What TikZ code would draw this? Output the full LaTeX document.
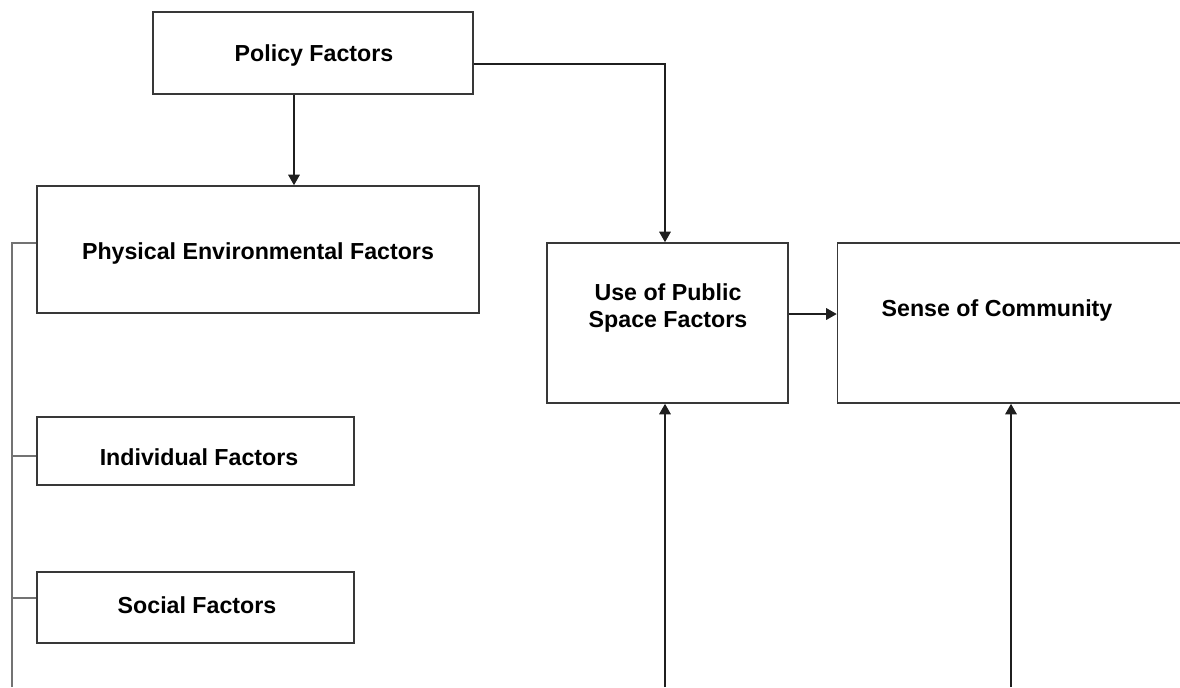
\documentclass[tikz,border=0pt]{standalone}
\usepackage{fontspec}
\setmainfont{Liberation Sans}
\usepackage{tikz}
\usetikzlibrary{positioning,calc,arrows.meta}

\begin{document}
\begin{tikzpicture}[x=0.02cm,y=-0.02cm,
    box/.style={draw=black!78, line width=0.9pt, inner sep=0pt},
    lbl/.style={font=\bfseries\fontsize{13.2}{15.9}\selectfont, align=center, inner sep=0pt},
    link/.style={draw=black!88, line width=1.1pt, -{Triangle[length=6pt,width=6.5pt]}},
    branch/.style={draw=black!55, line width=0.9pt}]
    \useasboundingbox (0,0) rectangle (1180,687);
    \clip (0,0) rectangle (1180,687);

    % Boxes
    \node[box, minimum width=6.4cm, minimum height=1.64cm] (policy) at (313,53) {};
    \node[box, minimum width=8.84cm, minimum height=2.54cm] (phys) at (258,249.5) {};
    \node[box, minimum width=4.82cm, minimum height=3.2cm] (use) at (667.5,323) {};
    \node[box, minimum width=7.3cm, minimum height=3.2cm] (sense) at (1020,323) {};
    \node[box, minimum width=6.34cm, minimum height=1.36cm] (indiv) at (195.5,451) {};
    \node[box, minimum width=6.34cm, minimum height=1.42cm] (social) at (195.5,607.5) {};

    % Labels
    \node[lbl] (policytxt) at (314,55) {Policy Factors};
    \node[lbl] (phystxt) at (258,253) {Physical Environmental Factors};
    \node[lbl] (usetxt) at (668,308) {Use of Public\\Space Factors};
    \node[lbl] (sensetxt) at (997,310) {Sense of Community};
    \node[lbl] (indivtxt) at (199,457) {Individual Factors};
    \node[lbl] (socialtxt) at (197,605) {Social Factors};

    % Arrows
    \coordinate (pdrop) at ([xshift=-0.38cm]policy.south);
    \draw[link] (pdrop) -- (pdrop |- phys.north);
    \draw[link] ([yshift=-0.22cm]policy.east) -| ([xshift=-0.05cm]use.north);
    \draw[link] ([yshift=0.18cm]use.east) -- ([yshift=0.18cm]use.east -| sense.west);
    \coordinate (ubase) at (665,687);
    \coordinate (sbase) at (1011,687);
    \draw[link] (ubase) -- (ubase |- use.south);
    \draw[link] (sbase) -- (sbase |- sense.south);

    % Left bracket
    \coordinate (ltop) at (12,243);
    \coordinate (lbot) at (12,687);
    \draw[branch] (lbot) -- (ltop) -- (ltop -| phys.west);
    \draw[branch] ([yshift=-0.1cm]indiv.west) -- ([yshift=-0.1cm]indiv.west -| ltop);
    \draw[branch] ([yshift=0.19cm]social.west) -- ([yshift=0.19cm]social.west -| ltop);
\end{tikzpicture}
\end{document}
